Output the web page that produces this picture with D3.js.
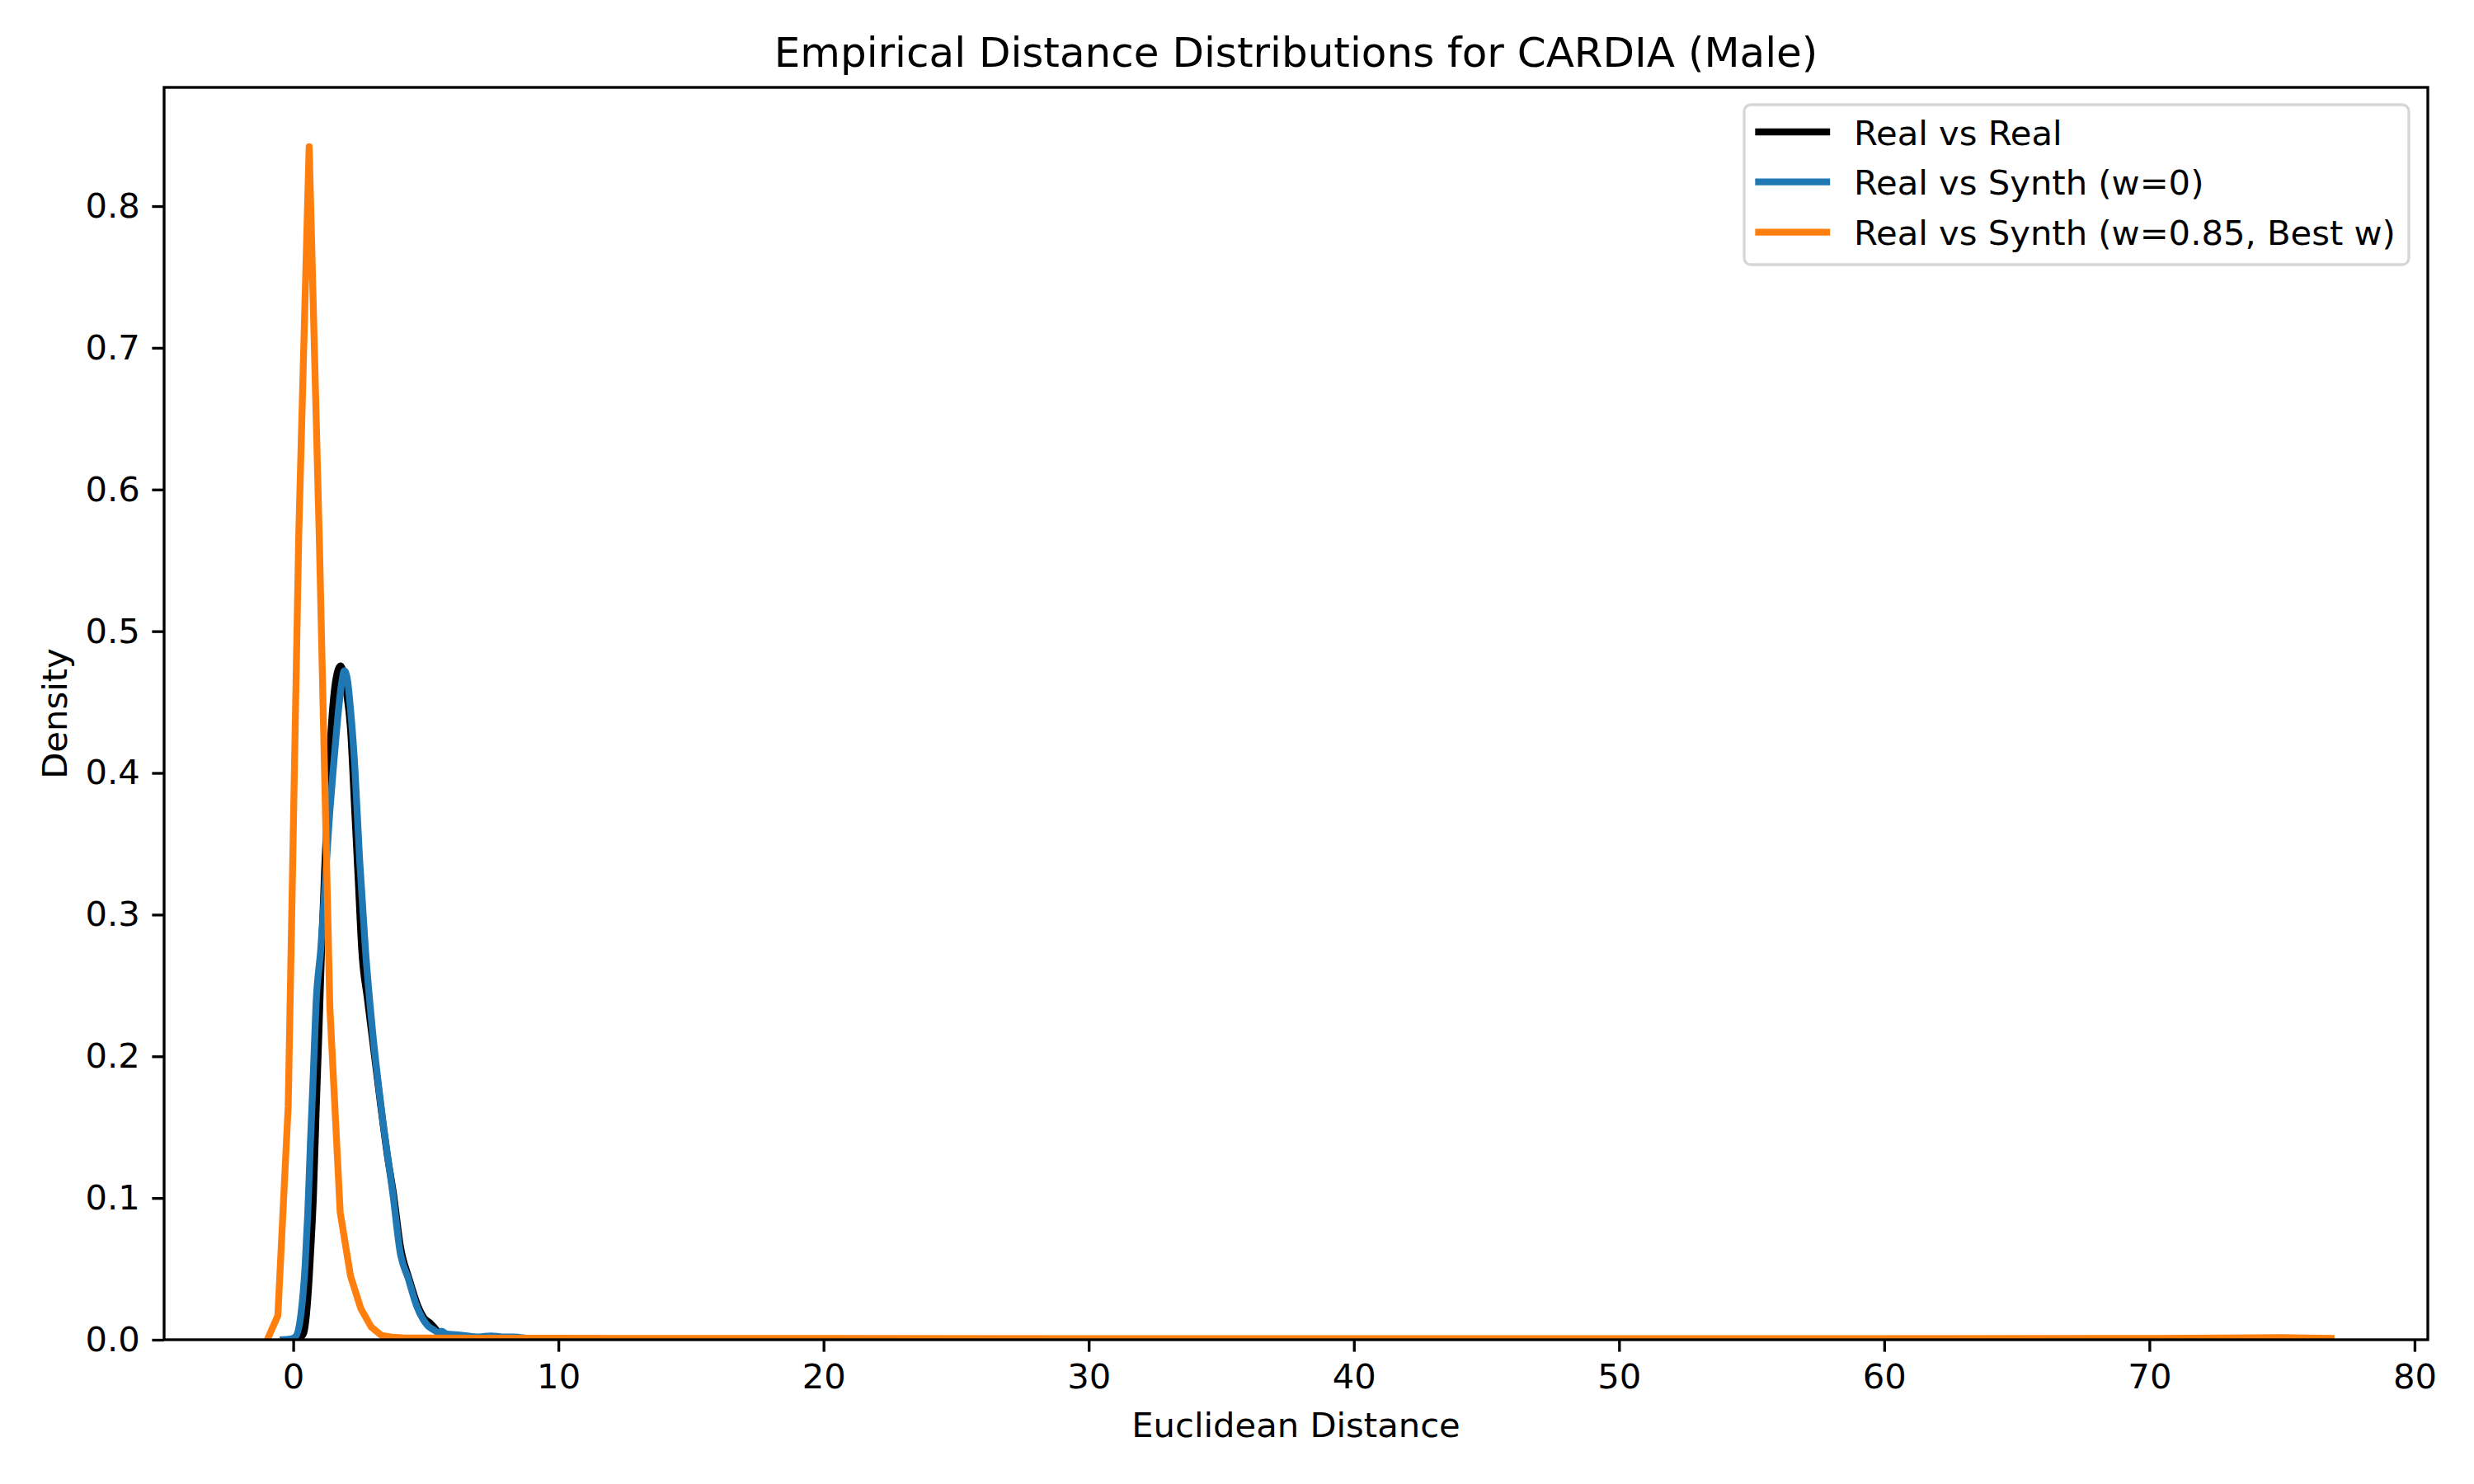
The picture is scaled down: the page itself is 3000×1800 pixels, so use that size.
<!DOCTYPE html>
<html>
<head>
<meta charset="utf-8">
<script src="https://cdn.jsdelivr.net/npm/d3@7"></script>
<style>
  html, body { margin: 0; padding: 0; background: #ffffff; }
  svg text { font-family: "DejaVu Sans", sans-serif; fill: #000; }
</style>
</head>
<body>
<svg id="chart" width="3000" height="1800"></svg>
<script>
// ---------------- data ----------------
const chartTitle = "Empirical Distance Distributions for CARDIA (Male)";
const xLabel = "Euclidean Distance";
const yLabel = "Density";

const seriesNames = ["Real vs Real", "Real vs Synth (w=0)", "Real vs Synth (w=0.85, Best w)"];
const seriesColors = ["#000000", "#1f77b4", "#ff7f0e"];

const realRealX = [0.15, 0.3, 0.4, 0.5, 0.6, 0.68, 0.76, 0.86, 0.97, 1.07, 1.18, 1.28, 1.43, 1.55, 1.65, 1.78, 1.9, 2.0, 2.16, 2.32, 2.45, 2.58, 2.8, 3.0, 3.3, 3.55, 3.78, 4.05, 4.37, 4.7, 4.95, 5.15, 5.35, 5.55, 5.8, 6.2];
const realRealY = [0.0, 0.002, 0.005, 0.018, 0.043, 0.07, 0.101, 0.159, 0.218, 0.276, 0.33, 0.373, 0.431, 0.458, 0.47, 0.4755, 0.47, 0.458, 0.431, 0.373, 0.325, 0.276, 0.24, 0.21, 0.165, 0.13, 0.103, 0.065, 0.043, 0.024, 0.015, 0.012, 0.008, 0.004, 0.0012, 0.0];

const realSynth0X = [-0.38, -0.1, 0.08, 0.29, 0.45, 0.55, 0.65, 0.76, 0.86, 1.04, 1.2, 1.38, 1.52, 1.64, 1.8, 1.93, 2.05, 2.15, 2.32, 2.5, 2.72, 2.99, 3.35, 3.77, 4.03, 4.34, 4.65, 5.07, 5.3, 5.48, 5.6, 5.79, 6.1, 6.42, 7.0, 7.45, 7.9, 8.29, 9.0, 9.6];
const realSynth0Y = [0.0, 0.0005, 0.002, 0.018, 0.053, 0.09, 0.14, 0.189, 0.237, 0.276, 0.322, 0.373, 0.405, 0.431, 0.46, 0.472, 0.465, 0.447, 0.405, 0.34, 0.276, 0.218, 0.159, 0.101, 0.062, 0.043, 0.024, 0.010, 0.007, 0.005, 0.006, 0.004, 0.0035, 0.003, 0.002, 0.0027, 0.002, 0.002, 0.0006, 0.0];

const realSynthBestX = [-0.97, -0.58, -0.19, 0.21, 0.60, 0.99, 1.38, 1.77, 2.16, 2.55, 2.94, 3.33, 3.72, 4.11, 5, 7, 10, 15, 20, 30, 40, 50, 60, 70, 73, 75, 76.85];
const realSynthBestY = [0.0004, 0.017, 0.165, 0.57, 0.842, 0.56, 0.235, 0.09, 0.045, 0.022, 0.009, 0.003, 0.0018, 0.0014, 0.0012, 0.001, 0.001, 0.0009, 0.0009, 0.0008, 0.0008, 0.0008, 0.0008, 0.0009, 0.0012, 0.0015, 0.0009];

const xTickValues = [0, 10, 20, 30, 40, 50, 60, 70, 80];
const yTickValues = [0.0, 0.1, 0.2, 0.3, 0.4, 0.5, 0.6, 0.7, 0.8];

// ---------------- layout ----------------
const plot = { left: 199, right: 2944, top: 106, bottom: 1625 };
const fs = 41.7;       // 10pt @300dpi
const titleFs = 50;    // 12pt @300dpi
const lw = 8.33;       // 2pt
const axLw = 3.33;     // 0.8pt
const tickLen = 14.6;
const tickPad = 14.6;

const svg = d3.select("#chart");

const x = d3.scaleLinear().domain([-4.87, 80.5]).range([plot.left, plot.right]);
const y = d3.scaleLinear().domain([0, 0.8838]).range([plot.bottom, plot.top]);

svg.append("defs").append("clipPath").attr("id", "plotclip")
  .append("rect")
  .attr("x", plot.left).attr("y", plot.top)
  .attr("width", plot.right - plot.left).attr("height", plot.bottom - plot.top);

const series = [
  { name: seriesNames[0], color: seriesColors[0], xs: realRealX, ys: realRealY, curve: d3.curveMonotoneX },
  { name: seriesNames[1], color: seriesColors[1], xs: realSynth0X, ys: realSynth0Y, curve: d3.curveMonotoneX },
  { name: seriesNames[2], color: seriesColors[2], xs: realSynthBestX, ys: realSynthBestY, curve: d3.curveLinear }
];

const gLines = svg.append("g").attr("clip-path", "url(#plotclip)");
series.forEach(s => {
  const pts = s.xs.map((v, i) => [v, s.ys[i]]);
  const line = d3.line().x(d => x(d[0])).y(d => y(d[1])).curve(s.curve);
  gLines.append("path")
    .attr("d", line(pts))
    .attr("fill", "none")
    .attr("stroke", s.color)
    .attr("stroke-width", lw)
    .attr("stroke-linejoin", "round")
    .attr("stroke-linecap", "square");
});

// axes
const xAxis = d3.axisBottom(x).tickValues(xTickValues).tickFormat(d3.format("d"))
  .tickSize(tickLen).tickPadding(tickPad);
const gx = svg.append("g").attr("transform", `translate(0,${plot.bottom})`).call(xAxis);
gx.select(".domain").remove();
gx.selectAll(".tick line").attr("stroke", "#000").attr("stroke-width", axLw);
gx.selectAll(".tick text").attr("font-size", fs).attr("font-family", "DejaVu Sans").attr("fill", "#000");

const yAxis = d3.axisLeft(y).tickValues(yTickValues).tickFormat(d3.format(".1f"))
  .tickSize(tickLen).tickPadding(tickPad);
const gy = svg.append("g").attr("transform", `translate(${plot.left},0)`).call(yAxis);
gy.select(".domain").remove();
gy.selectAll(".tick line").attr("stroke", "#000").attr("stroke-width", axLw);
gy.selectAll(".tick text").attr("font-size", fs).attr("font-family", "DejaVu Sans").attr("fill", "#000");

// frame (spines on top of lines)
svg.append("rect")
  .attr("x", plot.left).attr("y", plot.top)
  .attr("width", plot.right - plot.left).attr("height", plot.bottom - plot.top)
  .attr("fill", "none").attr("stroke", "#000").attr("stroke-width", axLw)
  .attr("stroke-linejoin", "miter");

// title & labels
svg.append("text")
  .attr("x", (plot.left + plot.right) / 2).attr("y", 81)
  .attr("text-anchor", "middle").attr("font-size", titleFs)
  .text(chartTitle);

svg.append("text")
  .attr("x", (plot.left + plot.right) / 2).attr("y", 1743)
  .attr("text-anchor", "middle").attr("font-size", fs)
  .text(xLabel);

svg.append("text")
  .attr("transform", `translate(81,${(plot.top + plot.bottom) / 2}) rotate(-90)`)
  .attr("text-anchor", "middle").attr("font-size", fs)
  .text(yLabel);

// legend
const lg = svg.append("g");
lg.append("rect")
  .attr("x", 2115).attr("y", 127).attr("width", 806).attr("height", 194)
  .attr("rx", 8).attr("ry", 8)
  .attr("fill", "#ffffff").attr("fill-opacity", 0.8)
  .attr("stroke", "#d6d6d6").attr("stroke-width", 3.3);
const rowY = [160, 220.7, 281.7];
series.forEach((s, i) => {
  lg.append("line")
    .attr("x1", 2132.5).attr("x2", 2215)
    .attr("y1", rowY[i]).attr("y2", rowY[i])
    .attr("stroke", s.color).attr("stroke-width", lw)
    .attr("stroke-linecap", "square");
  lg.append("text")
    .attr("x", 2248).attr("y", rowY[i] + 15.7)
    .attr("font-size", fs)
    .text(s.name);
});
</script>
</body>
</html>
